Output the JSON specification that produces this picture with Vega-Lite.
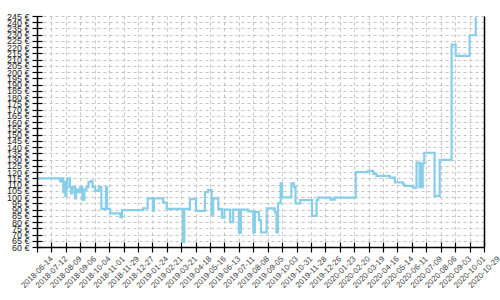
{
  "$schema": "https://vega.github.io/schema/vega-lite/v6.json",
  "width": 447,
  "height": 231,
  "autosize": {"type": "none"},
  "padding": {"left": 37, "top": 16, "right": 16, "bottom": 53},
  "background": "white",
  "config": {"view": {"stroke": null}, "font": "Liberation Sans"},
  "data": {"values": [
    {"date": "2018-06-17", "price": 115},
    {"date": "2018-07-29", "price": 112.5},
    {"date": "2018-08-02", "price": 115},
    {"date": "2018-08-04", "price": 104},
    {"date": "2018-08-06", "price": 112},
    {"date": "2018-08-08", "price": 101},
    {"date": "2018-08-10", "price": 107},
    {"date": "2018-08-12", "price": 115},
    {"date": "2018-08-17", "price": 108},
    {"date": "2018-08-19", "price": 103},
    {"date": "2018-08-22", "price": 108},
    {"date": "2018-08-27", "price": 99},
    {"date": "2018-08-29", "price": 106},
    {"date": "2018-09-02", "price": 104},
    {"date": "2018-09-06", "price": 108},
    {"date": "2018-09-10", "price": 98},
    {"date": "2018-09-14", "price": 106},
    {"date": "2018-09-18", "price": 108},
    {"date": "2018-09-22", "price": 112},
    {"date": "2018-09-27", "price": 113},
    {"date": "2018-09-30", "price": 108},
    {"date": "2018-10-05", "price": 105},
    {"date": "2018-10-12", "price": 108},
    {"date": "2018-10-17", "price": 90.5},
    {"date": "2018-10-26", "price": 108},
    {"date": "2018-10-28", "price": 90.5},
    {"date": "2018-11-03", "price": 87},
    {"date": "2018-11-23", "price": 84},
    {"date": "2018-11-26", "price": 89.5},
    {"date": "2019-01-06", "price": 91},
    {"date": "2019-01-15", "price": 99},
    {"date": "2019-01-25", "price": 89},
    {"date": "2019-01-27", "price": 99},
    {"date": "2019-02-14", "price": 95.5},
    {"date": "2019-02-21", "price": 90.5},
    {"date": "2019-03-24", "price": 64},
    {"date": "2019-03-27", "price": 90.5},
    {"date": "2019-04-07", "price": 98.4},
    {"date": "2019-04-19", "price": 89},
    {"date": "2019-05-06", "price": 104},
    {"date": "2019-05-12", "price": 105.6},
    {"date": "2019-05-19", "price": 86},
    {"date": "2019-05-22", "price": 99},
    {"date": "2019-06-01", "price": 90.5},
    {"date": "2019-06-08", "price": 83.5},
    {"date": "2019-06-13", "price": 90},
    {"date": "2019-06-24", "price": 80},
    {"date": "2019-06-30", "price": 90},
    {"date": "2019-07-11", "price": 71.5},
    {"date": "2019-07-15", "price": 90},
    {"date": "2019-07-29", "price": 88.5},
    {"date": "2019-08-08", "price": 71.7},
    {"date": "2019-08-11", "price": 88},
    {"date": "2019-08-19", "price": 81.6},
    {"date": "2019-08-23", "price": 71.7},
    {"date": "2019-09-03", "price": 91},
    {"date": "2019-09-19", "price": 88},
    {"date": "2019-09-22", "price": 71.7},
    {"date": "2019-09-25", "price": 95},
    {"date": "2019-09-30", "price": 111},
    {"date": "2019-10-03", "price": 99.8},
    {"date": "2019-10-21", "price": 111},
    {"date": "2019-10-26", "price": 108},
    {"date": "2019-10-29", "price": 95},
    {"date": "2019-11-07", "price": 97.6},
    {"date": "2019-11-30", "price": 85},
    {"date": "2019-12-09", "price": 97.6},
    {"date": "2019-12-12", "price": 99.5},
    {"date": "2020-01-05", "price": 98},
    {"date": "2020-01-13", "price": 99.5},
    {"date": "2020-02-23", "price": 120},
    {"date": "2020-03-18", "price": 121},
    {"date": "2020-03-28", "price": 118.5},
    {"date": "2020-04-03", "price": 117},
    {"date": "2020-04-29", "price": 115.5},
    {"date": "2020-05-09", "price": 111.8},
    {"date": "2020-05-25", "price": 110},
    {"date": "2020-05-28", "price": 109},
    {"date": "2020-06-13", "price": 107.5},
    {"date": "2020-06-20", "price": 127.5},
    {"date": "2020-06-26", "price": 108},
    {"date": "2020-06-28", "price": 127},
    {"date": "2020-06-30", "price": 108},
    {"date": "2020-07-02", "price": 127},
    {"date": "2020-07-05", "price": 135.5},
    {"date": "2020-07-25", "price": 101},
    {"date": "2020-08-04", "price": 129.7},
    {"date": "2020-08-27", "price": 222},
    {"date": "2020-09-04", "price": 213},
    {"date": "2020-10-01", "price": 229.6},
    {"date": "2020-10-13", "price": 244}
  ]},
  "resolve": {"axis": {"x": "independent", "y": "independent"}},
  "layer": [
    {
      "mark": {"type": "line", "strokeOpacity": 0, "interpolate": "step-after"},
      "encoding": {
        "x": {"field": "date", "type": "temporal",
          "scale": {"type": "utc", "domain": [{"year": 2018, "month": 6, "date": 14, "utc": true}, {"year": 2020, "month": 10, "date": 29, "utc": true}]},
          "axis": {"title": null, "orient": "bottom", "labels": false, "ticks": false, "domain": true, "domainColor": "black", "domainWidth": 1.5,
            "grid": true, "gridColor": "#c4c4c4", "gridDash": [3, 3], "gridWidth": 1,
            "values": [
              {"year": 2018, "month": 6, "date": 14, "utc": true}, {"year": 2018, "month": 7, "date": 12, "utc": true},
              {"year": 2018, "month": 8, "date": 9, "utc": true}, {"year": 2018, "month": 9, "date": 6, "utc": true},
              {"year": 2018, "month": 10, "date": 4, "utc": true}, {"year": 2018, "month": 11, "date": 1, "utc": true},
              {"year": 2018, "month": 11, "date": 29, "utc": true}, {"year": 2018, "month": 12, "date": 27, "utc": true},
              {"year": 2019, "month": 1, "date": 24, "utc": true}, {"year": 2019, "month": 2, "date": 21, "utc": true},
              {"year": 2019, "month": 3, "date": 21, "utc": true}, {"year": 2019, "month": 4, "date": 18, "utc": true},
              {"year": 2019, "month": 5, "date": 16, "utc": true}, {"year": 2019, "month": 6, "date": 13, "utc": true},
              {"year": 2019, "month": 7, "date": 11, "utc": true}, {"year": 2019, "month": 8, "date": 8, "utc": true},
              {"year": 2019, "month": 9, "date": 5, "utc": true}, {"year": 2019, "month": 10, "date": 3, "utc": true},
              {"year": 2019, "month": 10, "date": 31, "utc": true}, {"year": 2019, "month": 11, "date": 28, "utc": true},
              {"year": 2019, "month": 12, "date": 26, "utc": true}, {"year": 2020, "month": 1, "date": 23, "utc": true},
              {"year": 2020, "month": 2, "date": 20, "utc": true}, {"year": 2020, "month": 3, "date": 19, "utc": true},
              {"year": 2020, "month": 4, "date": 16, "utc": true}, {"year": 2020, "month": 5, "date": 14, "utc": true},
              {"year": 2020, "month": 6, "date": 11, "utc": true}, {"year": 2020, "month": 7, "date": 9, "utc": true},
              {"year": 2020, "month": 8, "date": 6, "utc": true}, {"year": 2020, "month": 9, "date": 3, "utc": true},
              {"year": 2020, "month": 10, "date": 1, "utc": true}, {"year": 2020, "month": 10, "date": 29, "utc": true}
            ]}},
        "y": {"field": "price", "type": "quantitative",
          "scale": {"domain": [60, 245], "nice": false, "zero": false},
          "axis": {"title": null, "orient": "left", "labels": false, "ticks": false, "domain": true, "domainColor": "black", "domainWidth": 1.5,
            "grid": true, "gridColor": "#c4c4c4", "gridDash": [3, 3], "gridWidth": 1,
            "values": [60,65,70,75,80,85,90,95,100,105,110,115,120,125,130,135,140,145,150,155,160,165,170,175,180,185,190,195,200,205,210,215,220,225,230,235,240,245]}}
      }
    },
    {
      "mark": {"type": "line", "strokeOpacity": 0, "interpolate": "step-after"},
      "encoding": {
        "x": {"field": "date", "type": "temporal",
          "axis": {"title": null, "orient": "bottom", "domain": false, "grid": false, "ticks": true, "tickColor": "black", "tickSize": 10, "tickWidth": 1.2, "offset": -5,
            "labelAngle": -45, "labelAlign": "center", "labelBaseline": "middle", "labelPadding": 20, "labelFontSize": 8, "labelColor": "#444", "labelOverlap": false, "labelFlush": false,
            "labelExpr": "utcFormat(datum.value, '%Y-%m-%d')",
            "values": [
              {"year": 2018, "month": 6, "date": 14, "utc": true}, {"year": 2018, "month": 7, "date": 12, "utc": true},
              {"year": 2018, "month": 8, "date": 9, "utc": true}, {"year": 2018, "month": 9, "date": 6, "utc": true},
              {"year": 2018, "month": 10, "date": 4, "utc": true}, {"year": 2018, "month": 11, "date": 1, "utc": true},
              {"year": 2018, "month": 11, "date": 29, "utc": true}, {"year": 2018, "month": 12, "date": 27, "utc": true},
              {"year": 2019, "month": 1, "date": 24, "utc": true}, {"year": 2019, "month": 2, "date": 21, "utc": true},
              {"year": 2019, "month": 3, "date": 21, "utc": true}, {"year": 2019, "month": 4, "date": 18, "utc": true},
              {"year": 2019, "month": 5, "date": 16, "utc": true}, {"year": 2019, "month": 6, "date": 13, "utc": true},
              {"year": 2019, "month": 7, "date": 11, "utc": true}, {"year": 2019, "month": 8, "date": 8, "utc": true},
              {"year": 2019, "month": 9, "date": 5, "utc": true}, {"year": 2019, "month": 10, "date": 3, "utc": true},
              {"year": 2019, "month": 10, "date": 31, "utc": true}, {"year": 2019, "month": 11, "date": 28, "utc": true},
              {"year": 2019, "month": 12, "date": 26, "utc": true}, {"year": 2020, "month": 1, "date": 23, "utc": true},
              {"year": 2020, "month": 2, "date": 20, "utc": true}, {"year": 2020, "month": 3, "date": 19, "utc": true},
              {"year": 2020, "month": 4, "date": 16, "utc": true}, {"year": 2020, "month": 5, "date": 14, "utc": true},
              {"year": 2020, "month": 6, "date": 11, "utc": true}, {"year": 2020, "month": 7, "date": 9, "utc": true},
              {"year": 2020, "month": 8, "date": 6, "utc": true}, {"year": 2020, "month": 9, "date": 3, "utc": true},
              {"year": 2020, "month": 10, "date": 1, "utc": true}, {"year": 2020, "month": 10, "date": 29, "utc": true}
            ]}},
        "y": {"field": "price", "type": "quantitative",
          "axis": {"title": null, "orient": "left", "domain": false, "grid": false, "ticks": true, "tickColor": "black", "tickSize": 10, "tickWidth": 1.2, "offset": -5,
            "labelPadding": 3, "labelFontSize": 9, "labelColor": "#222", "labelOverlap": false, "labelFlush": false,
            "labelExpr": "datum.value + ' €'",
            "values": [60,65,70,75,80,85,90,95,100,105,110,115,120,125,130,135,140,145,150,155,160,165,170,175,180,185,190,195,200,205,210,215,220,225,230,235,240,245]}}
      }
    },
    {
      "mark": {"type": "line", "color": "#87CEEB", "strokeWidth": 2.2, "interpolate": "step-after"},
      "encoding": {
        "x": {"field": "date", "type": "temporal", "axis": null},
        "y": {"field": "price", "type": "quantitative",
          "axis": {"title": null, "orient": "right", "labels": false, "ticks": false, "grid": false, "domain": true, "domainColor": "black", "domainWidth": 1.5}}
      }
    }
  ]
}
